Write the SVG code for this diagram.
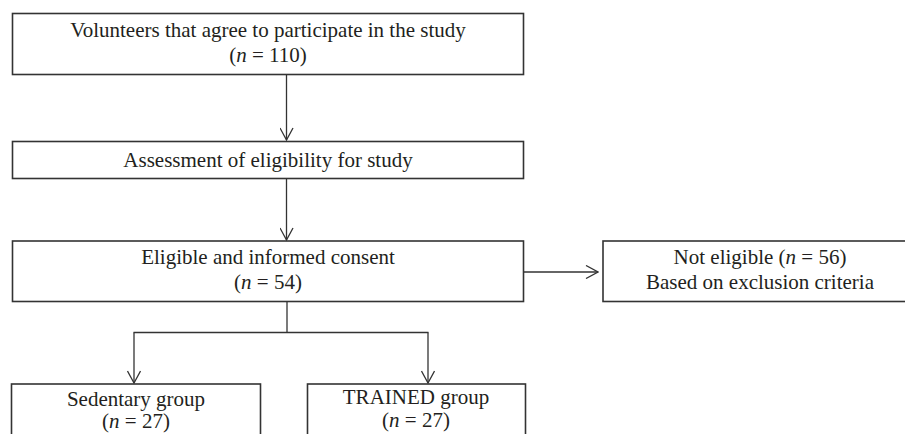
<svg xmlns="http://www.w3.org/2000/svg" width="905" height="434" viewBox="0 0 905 434">
<defs>
<style>
.box{fill:#fff;stroke:#333;stroke-width:1.6}
.ln{fill:none;stroke:#333;stroke-width:1.3}
.t{font-family:"Liberation Serif","Times New Roman",serif;font-size:21px;fill:#231f20;text-anchor:middle}
.i{font-style:italic}
</style>
<marker id="ah" viewBox="0 0 14 14" refX="13" refY="7" markerWidth="14" markerHeight="14" markerUnits="userSpaceOnUse" orient="auto">
<polyline points="1,0.5 13,7 1,13.5" fill="none" stroke="#333" stroke-width="1.3"/>
</marker>
</defs>
<rect width="905" height="434" fill="#fff"/>
<g id="connectors">
<line class="ln" x1="286.5" y1="75" x2="286.5" y2="140" marker-end="url(#ah)"/>
<line class="ln" x1="286.5" y1="179" x2="286.5" y2="240" marker-end="url(#ah)"/>
<line class="ln" x1="524" y1="272" x2="598" y2="272" marker-end="url(#ah)"/>
<polyline class="ln" points="287,302 287,332.5"/>
<line class="ln" x1="133.5" y1="332.5" x2="428.5" y2="332.5"/>
<line class="ln" x1="134" y1="332.5" x2="134" y2="383" marker-end="url(#ah)"/>
<line class="ln" x1="428" y1="332.5" x2="428" y2="383" marker-end="url(#ah)"/>
</g>
<g id="n1">
<rect class="box" x="12.5" y="13.5" width="511" height="61"/>
<text class="t" x="268" y="37">Volunteers that agree to participate in the study</text>
<text class="t" x="268" y="62">(<tspan class="i">n</tspan> = 110)</text>
</g>
<g id="n2">
<rect class="box" x="12.5" y="141.5" width="511" height="37"/>
<text class="t" x="268" y="167">Assessment of eligibility for study</text>
</g>
<g id="n3">
<rect class="box" x="12.5" y="241" width="511" height="60.5"/>
<text class="t" x="268" y="264">Eligible and informed consent</text>
<text class="t" x="268" y="289">(<tspan class="i">n</tspan> = 54)</text>
</g>
<g id="n4">
<rect class="box" x="603" y="241" width="320" height="60.5"/>
<text class="t" x="760" y="264">Not eligible (<tspan class="i">n</tspan> = 56)</text>
<text class="t" x="760" y="289">Based on exclusion criteria</text>
</g>
<g id="n5">
<rect class="box" x="11.5" y="384" width="249" height="60"/>
<text class="t" x="136" y="406">Sedentary group</text>
<text class="t" x="136" y="428">(<tspan class="i">n</tspan> = 27)</text>
</g>
<g id="n6">
<rect class="box" x="307.5" y="384" width="218" height="60"/>
<text class="t" x="416" y="404">TRAINED group</text>
<text class="t" x="416" y="427">(<tspan class="i">n</tspan> = 27)</text>
</g>
</svg>
